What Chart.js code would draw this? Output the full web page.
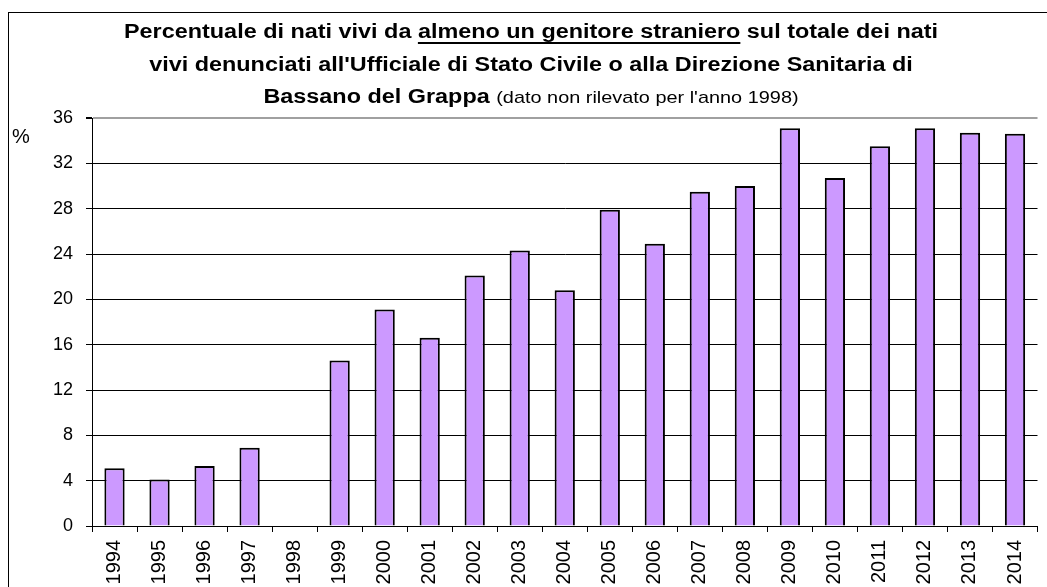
<!DOCTYPE html>
<html>
<head>
<meta charset="utf-8">
<script src="https://cdn.jsdelivr.net/npm/chart.js@4"></script>
<style>
  html, body { margin: 0; padding: 0; background: #fff; overflow: hidden; width: 1047px; height: 587px; }
  #frame { position: absolute; left: 8px; top: 12px; width: 1200px; height: 700px; border: 1px solid #000; box-sizing: border-box; }
  #title { position: absolute; left: 10px; top: 15px; width: 1042px; text-align: center; font-family: "Liberation Sans", Arial, sans-serif; font-weight: bold; font-size: 20px; line-height: 32.5px; color: #000; transform: scaleX(1.17); transform-origin: 50% 0; white-space: nowrap; }
  #title u { text-decoration: underline; text-underline-offset: 4px; text-decoration-thickness: 1.5px; }
  #title .sub { font-weight: normal; font-size: 17px; }
  #pct { position: absolute; left: 12px; top: 125px; font-family: "Liberation Sans", Arial, sans-serif; font-size: 20px; line-height: 23px; color: #000; }
  #c { position: absolute; left: 0; top: 0; }
</style>
</head>
<body>
<div id="frame"></div>
<canvas id="c" width="1047" height="587"></canvas>
<div id="title">Percentuale di nati vivi da <u>almeno un genitore straniero</u> sul totale dei nati<br>vivi denunciati all'Ufficiale di Stato Civile o alla Direzione Sanitaria di<br>Bassano del Grappa <span class="sub">(dato non rilevato per l'anno 1998)</span></div>
<div id="pct">%</div>
<script>
const years = ['1994','1995','1996','1997','1998','1999','2000','2001','2002','2003','2004','2005','2006','2007','2008','2009','2010','2011','2012','2013','2014'];
const percentages = [5.1, 4.1, 5.3, 6.9, null, 14.6, 19.1, 16.6, 22.1, 24.3, 20.8, 27.9, 24.9, 29.5, 30.0, 35.1, 30.7, 33.5, 35.1, 34.7, 34.6];
const yTicks = [0, 4, 8, 12, 16, 20, 24, 28, 32, 36];

const FONT = '"Liberation Sans", Arial, sans-serif';

new Chart(document.getElementById('c'), {
  type: 'bar',
  data: {
    labels: years,
    datasets: [{
      data: percentages,
      backgroundColor: '#CC99FF',
      borderColor: '#000000',
      borderWidth: 2,
      categoryPercentage: 1.0,
      barPercentage: 0.45
    }]
  },
  options: {
    responsive: false,
    animation: false,
    devicePixelRatio: 1,
    layout: { padding: { top: 118, right: 0, left: 0, bottom: 0 } },
    plugins: { legend: { display: false }, title: { display: false }, tooltip: { enabled: false } },
    scales: {
      x: {
        grid: { display: true, drawOnChartArea: false, offset: true, tickLength: 6, color: '#000', tickColor: '#000' },
        border: { display: true, color: '#000', width: 1 },
        ticks: { color: '#000', font: { family: FONT, size: 20 }, minRotation: 90, maxRotation: 90, padding: 8, autoSkip: false },
        afterFit: s => { s.height = 61; }
      },
      y: {
        min: 0, max: 36,
        afterBuildTicks: s => { s.ticks = yTicks.map(v => ({ value: v })); },
        grid: { color: c => (c.tick && c.tick.value === 36) ? '#a0a0a0' : '#000', lineWidth: c => (c.tick && c.tick.value === 36) ? 2 : 1, tickLength: 6, tickColor: '#000' },
        border: { display: true, color: '#000', width: 1 },
        ticks: { color: '#000', font: { family: FONT, size: 18 }, padding: 13 },
        afterFit: s => { s.width = 92; }
      }
    }
  }
});
</script>
</body>
</html>
